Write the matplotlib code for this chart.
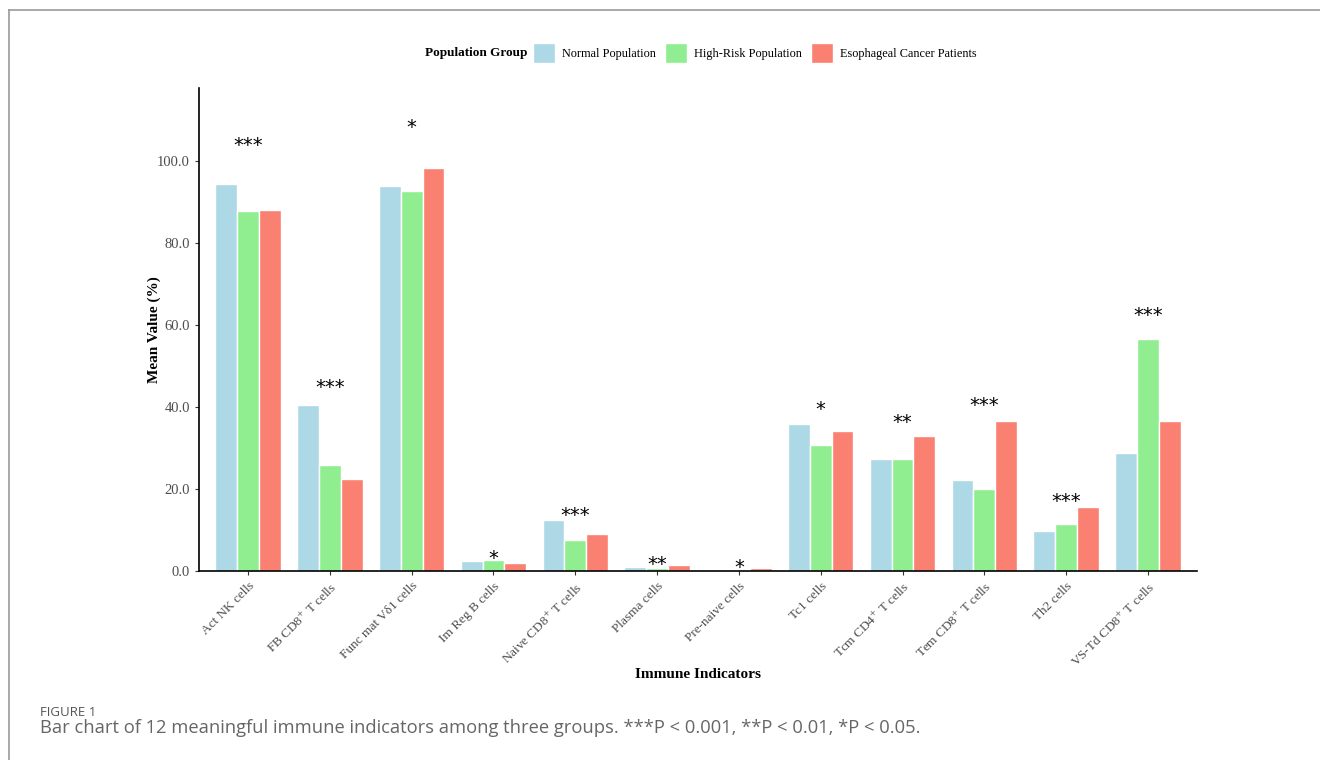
import matplotlib.pyplot as plt
import numpy as np
from matplotlib.lines import Line2D
from matplotlib.patches import Patch

# Data
indicators = ['Act NK cells', 'FB CD8$^{+}$ T cells', 'Func mat V\u03b41 cells', 'Im Reg B cells',
              'Naive CD8$^{+}$ T cells', 'Plasma cells', 'Pre-naive cells', 'Tc1 cells',
              'Tcm CD4$^{+}$ T cells', 'Tem CD8$^{+}$ T cells', 'Th2 cells', 'VS-Td CD8$^{+}$ T cells']
groups = ['Normal Population', 'High-Risk Population', 'Esophageal Cancer Patients']
normal = [94.4, 40.6, 94.0, 2.4, 12.4, 0.9, 0.1, 35.9, 27.3, 22.2, 9.8, 28.7]
high_risk = [87.9, 25.9, 92.6, 2.8, 7.5, 0.7, 0.3, 30.7, 27.2, 20.1, 11.4, 56.6]
cancer = [88.0, 22.4, 98.3, 1.9, 9.1, 1.4, 0.7, 34.1, 32.9, 36.7, 15.5, 36.5]
signif = ['***', '***', '*', '*', '***', '**', '*', '*', '**', '***', '***', '***']
colors = ['#ADD8E6', '#90EE90', '#FA8072']

plt.rcParams['font.family'] = ['Liberation Serif', 'DejaVu Serif']
plt.rcParams['mathtext.fontset'] = 'stix'

fig = plt.figure(figsize=(13.2, 7.6), dpi=100)
ax = fig.add_axes([199/1320, 1-571/760, (1197-199)/1320, (571-88)/760])

x = np.arange(len(indicators))
w = 0.8 / 3
for i, (vals, c, g) in enumerate(zip([normal, high_risk, cancer], colors, groups)):
    ax.bar(x + (i - 1) * w, vals, width=w, color=c, edgecolor='white', linewidth=1.0, label=g)

# significance marks above each group
for xi, s, a, b, c in zip(x, signif, normal, high_risk, cancer):
    top = max(a, b, c) * 1.1
    ax.text(xi, top, s, ha='center', va='center', fontsize=14, color='black',
            family='DejaVu Sans')

ax.set_xlim(-0.6, len(indicators) - 0.4)
ax.set_ylim(0, 117.8)
ax.set_yticks(range(0, 101, 20))
ax.set_yticklabels(['%.1f' % v for v in range(0, 101, 20)])
ax.set_xticks(x)
ax.set_xticklabels(indicators, rotation=45, ha='right', va='top', rotation_mode='anchor')
ax.tick_params(axis='both', colors='#333333', labelcolor='#4d4d4d', labelsize=9.5, length=3, width=0.8)
ax.tick_params(axis='y', labelsize=10.5)
for side in ['top', 'right']:
    ax.spines[side].set_visible(False)
for side in ['left', 'bottom']:
    ax.spines[side].set_linewidth(1.2)
    ax.spines[side].set_color('black')

ax.set_ylabel('Mean Value (%)', fontsize=11, fontweight='bold')
ax.yaxis.set_label_coords(-(199-161)/998, 0.5)
ax.set_xlabel('Immune Indicators', fontsize=11, fontweight='bold')
ax.xaxis.set_label_coords(0.5, -(668-571)/483)

# legend on top, title on the left like ggplot
fig.text(527/1320, 1-53/760, 'Population Group', ha='right', va='center', fontsize=9.5, fontweight='bold')
handles = [Patch(facecolor=c, edgecolor='white') for c in colors]
fig.legend(handles, groups, loc='center left', bbox_to_anchor=(533/1320, 1-53/760), ncol=3,
           frameon=False, fontsize=8.8, handlelength=1.8, handleheight=2.2,
           handletextpad=0.6, columnspacing=0.7, borderaxespad=0, borderpad=0)

# page frame and caption
fig.add_artist(Line2D([9/1320, 1], [1-10/760, 1-10/760], color='#999999', linewidth=1.2))
fig.add_artist(Line2D([9/1320, 9/1320], [0, 1-10/760], color='#999999', linewidth=1.2))
fig.text(40/1320, 1-712/760, 'FIGURE 1', fontsize=9.5, color='#555555', va='center',
         family=['Open Sans', 'DejaVu Sans'])
fig.text(40/1320, 1-728/760,
         'Bar chart of 12 meaningful immune indicators among three groups. ***P < 0.001, **P < 0.01, *P < 0.05.',
         fontsize=13.2, color='#666666', va='center', family=['Open Sans', 'DejaVu Sans'])

fig.savefig('out.png', dpi=100, facecolor='white')
